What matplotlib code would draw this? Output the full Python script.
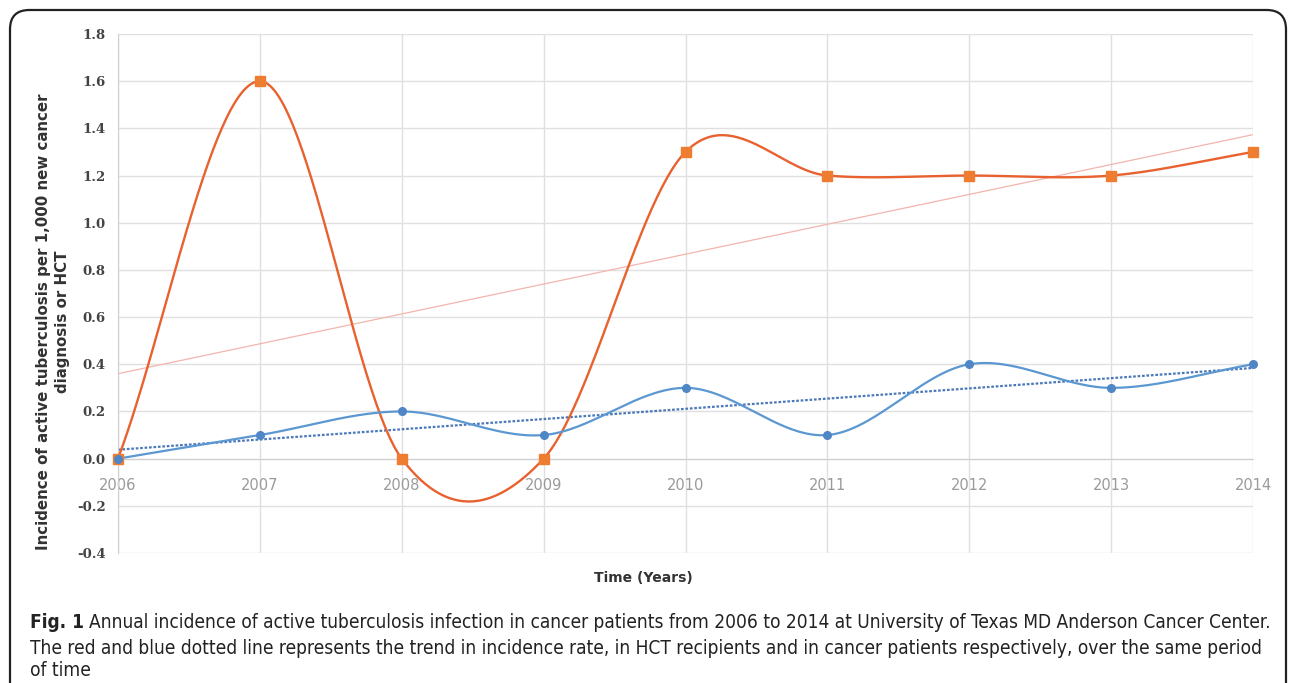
import numpy as np
import matplotlib
matplotlib.use("Agg")
import matplotlib.pyplot as plt
from matplotlib.patches import FancyBboxPatch

years = [2006, 2007, 2008, 2009, 2010, 2011, 2012, 2013, 2014]
hct_rate = [0.0, 1.6, 0.0, 0.0, 1.3, 1.2, 1.2, 1.2, 1.3]
cancer_rate = [0.0, 0.1, 0.2, 0.1, 0.3, 0.1, 0.4, 0.3, 0.4]
y_ticks = [-0.4, -0.2, 0.0, 0.2, 0.4, 0.6, 0.8, 1.0, 1.2, 1.4, 1.6, 1.8]


def catmull_rom(x, y, n=60):
    x = np.asarray(x, float)
    y = np.asarray(y, float)
    xs, ys = [], []
    N = len(x)
    for i in range(N - 1):
        p0 = y[i - 1] if i > 0 else y[i]
        p1, p2 = y[i], y[i + 1]
        p3 = y[i + 2] if i + 2 < N else y[i + 1]
        m1 = (p2 - p0) / (2 if i > 0 else 1)
        m2 = (p3 - p1) / (2 if i + 2 < N else 1)
        t = np.linspace(0, 1, n, endpoint=(i == N - 2))
        h00 = 2 * t**3 - 3 * t**2 + 1
        h10 = t**3 - 2 * t**2 + t
        h01 = -2 * t**3 + 3 * t**2
        h11 = t**3 - t**2
        ys.append(h00 * p1 + h10 * m1 + h01 * p2 + h11 * m2)
        xs.append(x[i] + t * (x[i + 1] - x[i]))
    return np.concatenate(xs), np.concatenate(ys)


fig = plt.figure(figsize=(12.9, 6.83), dpi=100)
ax = fig.add_axes([118 / 1290, 1 - 553 / 683, (1253 - 118) / 1290, (553 - 34) / 683])

ax.set_xlim(years[0], years[-1])
ax.set_ylim(y_ticks[0], y_ticks[-1])

ax.set_yticks(y_ticks)
ax.set_xticks(years)
ax.grid(True, color="#e0e0e0", linewidth=1.0)
ax.set_axisbelow(True)
for s in ["top", "right"]:
    ax.spines[s].set_visible(False)
ax.spines["left"].set_color("#cfcfcf")
ax.spines["bottom"].set_position(("data", 0))
ax.spines["bottom"].set_color("#cfcfcf")
ax.tick_params(axis="both", length=0)
ax.tick_params(axis="x", pad=14, labelsize=10.5, labelcolor="#9a9a9a")
ax.tick_params(axis="y", pad=9, labelsize=9.5, labelcolor="#444444")
ax.set_yticklabels([f"{v:.1f}" for v in y_ticks], fontweight="bold", family="DejaVu Serif")
ax.set_xticklabels([str(y) for y in years], family="DejaVu Sans")

# trend lines
xa = np.array(years, float)
c_r = np.polyfit(xa, hct_rate, 1)
c_b = np.polyfit(xa, cancer_rate, 1)
ax.plot(xa, np.polyval(c_r, xa), color="#f2b5ae", linewidth=0.9, zorder=2)
ax.plot(xa, np.polyval(c_b, xa), color="#4a78b8", linewidth=1.6, linestyle=(0, (1.2, 0.8)), zorder=2)

# smoothed series
sx, sy = catmull_rom(years, hct_rate)
ax.plot(sx, sy, color="#e8612f", linewidth=1.7, zorder=3)
bx, by = catmull_rom(years, cancer_rate)
ax.plot(bx, by, color="#5b97d0", linewidth=1.6, zorder=3)

ax.plot(years, hct_rate, linestyle="none", marker="s", markersize=6.5,
        color="#ee7d31", zorder=4, clip_on=False)
ax.plot(years, cancer_rate, linestyle="none", marker="o", markersize=5.5,
        color="#4f86c6", zorder=4, clip_on=False)

fig.text(53 / 1290, 1 - 322 / 683,
         "Incidence of active tuberculosis per 1,000 new cancer\ndiagnosis or HCT",
         rotation=90, ha="center", va="center", fontsize=10.8, fontweight="bold",
         color="#333333", linespacing=1.35)
fig.text(643 / 1290, 1 - 578 / 683, "Time (Years)", ha="center", va="center",
         fontsize=10, fontweight="bold", color="#333333")

# caption
cap_family = ["DejaVu Sans"]
cap_kw = dict(ha="left", va="center", family=cap_family, color="#222222",
              fontstretch="condensed")
line1 = "Annual incidence of active tuberculosis infection in cancer patients from 2006 to 2014 at University of Texas MD Anderson Cancer Center."
line2 = "The red and blue dotted line represents the trend in incidence rate, in HCT recipients and in cancer patients respectively, over the same period"
y1 = 1 - 623 / 683
fs = 14.0
t1 = fig.text(30 / 1290, y1, "Fig. 1", fontsize=fs, fontweight="bold", **cap_kw)
t2 = fig.text(0, y1, line1, fontsize=fs, **cap_kw)
fig.canvas.draw()
r = fig.canvas.get_renderer()
w_total = t1.get_window_extent(r).width + 5 + t2.get_window_extent(r).width
fs = fs * 1245 / w_total
t1.set_fontsize(fs)
t2.set_fontsize(fs)
fig.canvas.draw()
bb = t1.get_window_extent(r)
t2.set_x((bb.x1 + 5) / 1290)
fig.text(30 / 1290, 1 - 648 / 683, line2, fontsize=fs, **cap_kw)
fig.text(30 / 1290, 1 - 671 / 683, "of time", fontsize=fs, **cap_kw)

# rounded frame
frame = FancyBboxPatch((10 / 1290, -0.05), 1276 / 1290, (683 - 10) / 683 + 0.05,
                       boxstyle="round,pad=0,rounding_size=0.015",
                       transform=fig.transFigure, fill=False, edgecolor="#222222",
                       linewidth=1.6, mutation_aspect=1290 / 683)
fig.patches.append(frame)

fig.savefig("out.png", dpi=100)
